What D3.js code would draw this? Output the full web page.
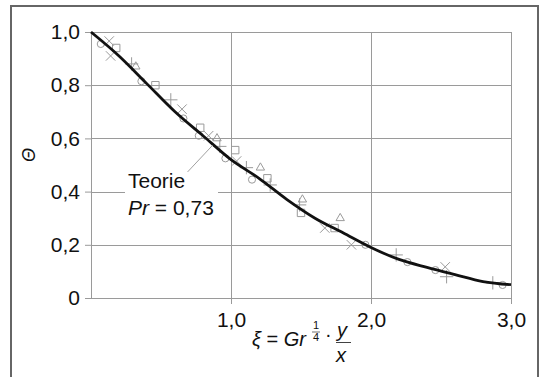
<!DOCTYPE html>
<html>
<head>
<meta charset="utf-8">
<script src="https://cdn.jsdelivr.net/npm/d3@7"></script>
<style>
  body { margin: 0; background: #fff; }
  svg text { font-family: "Liberation Sans", Arial, sans-serif; fill: #111; }
</style>
</head>
<body>
<div class="chart"></div>
<script>
// theory curve, Pr = 0.73
const theoryXi = [0, 0.2, 0.4, 0.6, 0.8, 1.0, 1.2, 1.4, 1.6, 1.8, 2.0, 2.2, 2.4, 2.6, 2.8, 3.0];
const theoryTheta = [1.0, 0.91, 0.805, 0.70, 0.61, 0.52, 0.45, 0.37, 0.30, 0.245, 0.19, 0.145, 0.115, 0.088, 0.062, 0.05];

// measured points, one list per marker type
const circleXi = [0.07, 0.36, 0.66, 0.77, 0.96, 1.15, 1.96, 2.26, 2.46, 2.94];
const circleTheta = [0.955, 0.815, 0.675, 0.61, 0.525, 0.445, 0.20, 0.135, 0.105, 0.049];
const timesXi = [0.13, 0.14, 0.65, 0.84, 1.04, 1.67, 1.86, 2.53];
const timesTheta = [0.966, 0.91, 0.71, 0.61, 0.515, 0.263, 0.20, 0.117];
const squareXi = [0.18, 0.46, 0.78, 1.03, 1.26, 1.50, 1.74];
const squareTheta = [0.94, 0.80, 0.64, 0.556, 0.45, 0.32, 0.263];
const triangleXi = [0.32, 0.90, 1.21, 1.51, 1.78];
const triangleTheta = [0.87, 0.60, 0.49, 0.37, 0.30];
const plusXi = [0.29, 0.57, 0.92, 1.11, 1.28, 1.49, 2.18, 2.54, 2.87];
const plusTheta = [0.88, 0.745, 0.57, 0.49, 0.425, 0.35, 0.162, 0.08, 0.057];

const yTicks = [0, 0.2, 0.4, 0.6, 0.8, 1.0];
const yTickLabels = ['0', '0,2', '0,4', '0,6', '0,8', '1,0'];
const xTicks = [1, 2, 3];
const xTickLabels = ['1,0', '2,0', '3,0'];

const W = 545, H = 377;
const svg = d3.select('.chart').append('svg').attr('width', W).attr('height', H);

// outer frame
svg.append('rect')
  .attr('x', 11).attr('y', 6).attr('width', 527).attr('height', 400)
  .attr('fill', 'none').attr('stroke', '#666').attr('stroke-width', 2);

const x = d3.scaleLinear([0, 3], [91, 511]);
const y = d3.scaleLinear([0, 1], [298, 32]);

const grid = svg.append('g').attr('stroke', '#9a9a9a').attr('stroke-width', 1).attr('shape-rendering', 'crispEdges');
grid.selectAll('.hg').data(yTicks).enter().append('line')
  .attr('x1', x(0)).attr('x2', x(3))
  .attr('y1', (d) => Math.round(y(d)) + 0.5).attr('y2', (d) => Math.round(y(d)) + 0.5);
grid.selectAll('.vg').data([0].concat(xTicks)).enter().append('line')
  .attr('y1', y(0)).attr('y2', y(1))
  .attr('x1', (d) => Math.round(x(d)) + 0.5).attr('x2', (d) => Math.round(x(d)) + 0.5);

// axes (ticks outward, labels with comma decimals)
const yAxis = svg.append('g').attr('transform', `translate(${x(0)},0)`)
  .call(d3.axisLeft(y).tickValues(yTicks).tickSize(6).tickFormat((d, i) => yTickLabels[i]));
const xAxis = svg.append('g').attr('transform', `translate(0,${y(0)})`)
  .call(d3.axisBottom(x).tickValues(xTicks).tickSize(6).tickFormat((d, i) => xTickLabels[i]));
[yAxis, xAxis].forEach((a) => {
  a.select('.domain').remove();
  a.selectAll('line').attr('stroke', '#9a9a9a');
  a.selectAll('text').attr('font-size', 21).attr('font-family', '"Liberation Sans", Arial, sans-serif').attr('fill', '#111');
});
yAxis.selectAll('text').attr('x', -11);
xAxis.selectAll('text').attr('y', 29).attr('dy', 0);

// markers
const mk = svg.append('g').attr('fill', 'none').attr('stroke', '#9a9a9a').attr('stroke-width', 1);
function pts(xs, ys) { return xs.map((v, i) => [v, ys[i]]); }
const symPlus = d3.symbolPlus || d3.symbolCross;
const symTimes = d3.symbolTimes || d3.symbolX;
const sets = [
  { data: pts(circleXi, circleTheta), type: d3.symbolCircle, size: 40 },
  { data: pts(timesXi, timesTheta), type: symTimes, size: 60 },
  { data: pts(squareXi, squareTheta), type: d3.symbolSquare, size: 55 },
  { data: pts(triangleXi, triangleTheta), type: d3.symbolTriangle2 || d3.symbolTriangle, size: 50 },
  { data: pts(plusXi, plusTheta), type: symPlus, size: 60 },
];
sets.forEach((s) => {
  mk.append('g').selectAll('path').data(s.data).enter().append('path')
    .attr('transform', (d) => `translate(${x(d[0])},${y(d[1])})`)
    .attr('d', d3.symbol(s.type, s.size));
});

// theory curve
const line = d3.line().x((d) => x(d[0])).y((d) => y(d[1])).curve(d3.curveMonotoneX);
svg.append('path').datum(pts(theoryXi, theoryTheta))
  .attr('d', line).attr('fill', 'none').attr('stroke', '#111').attr('stroke-width', 2.8);

// annotation
svg.append('line')
  .attr('x1', x(0.69)).attr('y1', y(0.474)).attr('x2', x(0.87)).attr('y2', y(0.575))
  .attr('stroke', '#888').attr('stroke-width', 0.8);
svg.append('rect').attr('x', 125).attr('y', 186).attr('width', 93).attr('height', 14).attr('fill', '#fff');
svg.append('text').attr('x', 128).attr('y', 188).attr('font-size', 21).text('Teorie');
const pr = svg.append('text').attr('x', 128).attr('y', 215).attr('font-size', 21);
pr.append('tspan').attr('font-style', 'italic').text('Pr');
pr.append('tspan').text(' = 0,73');

// y axis title
svg.append('text').attr('transform', 'translate(35,155) rotate(-90)')
  .attr('text-anchor', 'middle').attr('font-size', 18).attr('font-style', 'italic').text('Θ');

// x axis title
const t = svg.append('g').attr('font-size', 20);
const t1 = t.append('text').attr('x', 252).attr('y', 346).attr('font-style', 'italic');
t1.append('tspan').text('ξ');
t1.append('tspan').attr('font-style', 'normal').text(' = ');
t1.append('tspan').text('Gr');
t.append('text').attr('x', 313).attr('y', 329).attr('font-size', 11).text('1');
t.append('line').attr('x1', 312).attr('x2', 320).attr('y1', 332).attr('y2', 332).attr('stroke', '#111').attr('stroke-width', 0.6);
t.append('text').attr('x', 313).attr('y', 341).attr('font-size', 11).text('4');
t.append('text').attr('x', 325).attr('y', 341).text('·');
t.append('text').attr('x', 337).attr('y', 337).attr('font-style', 'italic').text('y');
t.append('line').attr('x1', 336).attr('x2', 351).attr('y1', 342.5).attr('y2', 342.5).attr('stroke', '#111').attr('stroke-width', 0.8);
t.append('text').attr('x', 336).attr('y', 362).attr('font-style', 'italic').text('x');
</script>
</body>
</html>
